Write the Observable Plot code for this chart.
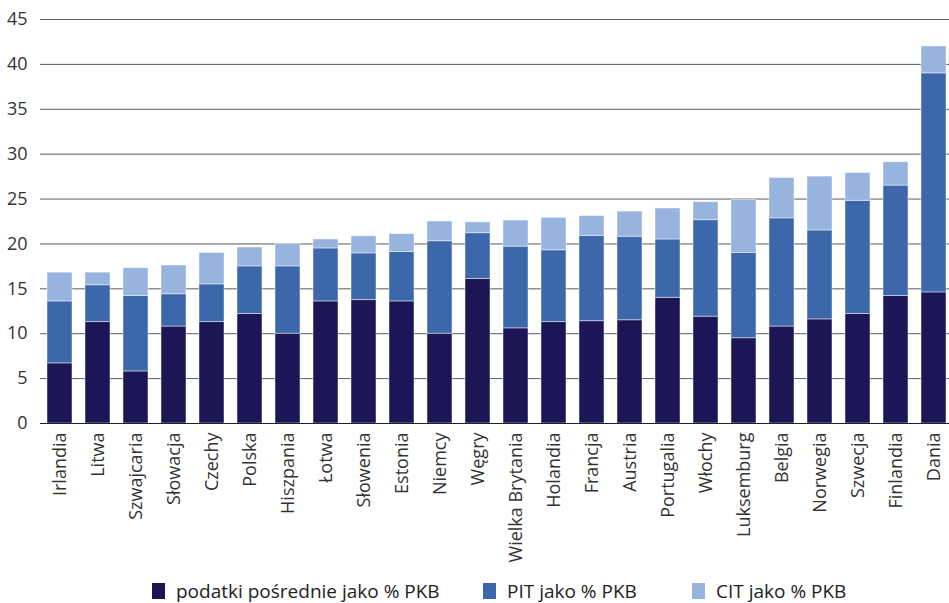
<!DOCTYPE html>
<html>
<head>
<meta charset="utf-8">
<script src="https://cdn.jsdelivr.net/npm/d3@7"></script>
<script src="https://cdn.jsdelivr.net/npm/@observablehq/plot@0.6"></script>
<style>
  html, body { margin: 0; padding: 0; background: white; overflow: hidden; }
  body { width: 949px; height: 603px; font-family: "Open Sans", sans-serif; }
  #legend { position: relative; height: 24px; margin-top: 5px; font-size: 19px; color: #222; }
  .item { position: absolute; top: 0; display: flex; align-items: center; height: 22px; white-space: nowrap; }
  .sw { width: 13px; height: 16px; margin-right: 11px; }
</style>
</head>
<body>
<div id="chart"></div>
<div id="legend"></div>
<script>
const countries = ["Irlandia","Litwa","Szwajcaria","Słowacja","Czechy","Polska","Hiszpania","Łotwa","Słowenia","Estonia","Niemcy","Węgry","Wielka Brytania","Holandia","Francja","Austria","Portugalia","Włochy","Luksemburg","Belgia","Norwegia","Szwecja","Finlandia","Dania"];
const indirect = [6.7, 11.3, 5.8, 10.8, 11.3, 12.2, 10.0, 13.6, 13.75, 13.6, 10.0, 16.1, 10.6, 11.3, 11.4, 11.5, 14.0, 11.9, 9.5, 10.8, 11.6, 12.2, 14.2, 14.6];
const pit = [6.9, 4.1, 8.4, 3.6, 4.2, 5.3, 7.5, 5.9, 5.2, 5.5, 10.3, 5.1, 9.1, 8.0, 9.5, 9.3, 6.5, 10.75, 9.5, 12.05, 9.9, 12.6, 12.3, 24.4];
const cit = [3.2, 1.4, 3.1, 3.2, 3.5, 2.1, 2.5, 1.0, 1.9, 2.0, 2.2, 1.2, 2.9, 3.6, 2.2, 2.8, 3.45, 2.0, 5.9, 4.5, 6.0, 3.1, 2.6, 3.0];
const seriesNames = ["podatki pośrednie jako % PKB", "PIT jako % PKB", "CIT jako % PKB"];
const colors = ["#1c1656", "#3c67ab", "#96b4de"];
const yTicks = [0, 5, 10, 15, 20, 25, 30, 35, 40, 45];

const seriesValues = [indirect, pit, cit];
const data = [];
seriesNames.forEach((s, si) => {
  countries.forEach((c, ci) => data.push({country: c, series: s, value: seriesValues[si][ci]}));
});

const chart = Plot.plot({
  width: 949,
  height: 575,
  marginLeft: 40,
  marginRight: -3,
  marginTop: 19,
  marginBottom: 152,
  style: {fontFamily: "Open Sans, sans-serif", fontSize: "18px", color: "#333", overflow: "visible"},
  x: {type: "band", domain: countries, paddingInner: 0.35, paddingOuter: 0.175, label: null},
  y: {domain: [0, 45], label: null},
  color: {domain: seriesNames, range: colors},
  marks: [
    Plot.gridY(yTicks, {stroke: "#5a5a5a", strokeOpacity: 1, strokeWidth: 1}),
    Plot.barY(data, Plot.stackY({x: "country", y: "value", z: "series", fill: "series", stroke: "white", strokeOpacity: 0.45, strokeWidth: 1})),
    Plot.ruleY([0], {stroke: "#222", strokeWidth: 1.2}),
    Plot.axisY(yTicks, {tickSize: 0, tickPadding: 13, fontSize: 18, label: null}),
    Plot.axisX({tickSize: 0, tickRotate: -90, tickPadding: 9, fontSize: 18, label: null})
  ]
});
document.getElementById("chart").appendChild(chart);

const legend = document.getElementById("legend");
const lx = [152, 483, 692];
seriesNames.forEach((s, i) => {
  const it = document.createElement("div");
  it.className = "item";
  it.style.left = lx[i] + "px";
  const sw = document.createElement("span");
  sw.className = "sw";
  sw.style.background = colors[i];
  const t = document.createElement("span");
  t.textContent = s;
  it.appendChild(sw);
  it.appendChild(t);
  legend.appendChild(it);
});
</script>
</body>
</html>
